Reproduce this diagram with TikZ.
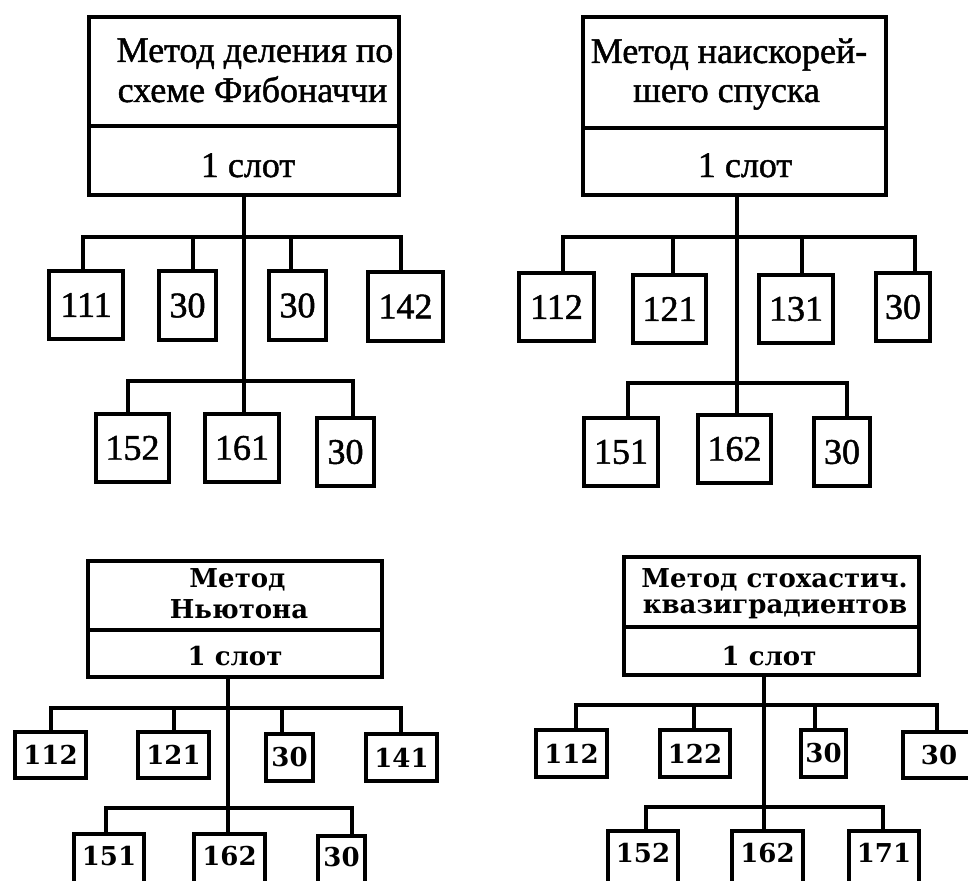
\documentclass[tikz,border=0pt]{standalone}
\usepackage{fontspec}
\setmainfont{Liberation Serif}
\newfontfamily\upperserif[FakeBold=1.3]{Liberation Serif}
\newfontfamily\heavyserif{DejaVu Serif}
\begin{document}
\begin{tikzpicture}[x=0.75pt,y=-0.75pt,
  frame/.style 2 args={draw, line width=3pt, inner sep=0pt,
    minimum width={(#1)*0.75pt}, minimum height={(#2)*0.75pt}},
  upper/.style={font=\upperserif\fontsize{27}{30}\selectfont},
  lower/.style={font=\heavyserif\bfseries\fontsize{19.5}{22}\selectfont},
  caption/.style={inner sep=0pt, anchor=base},
  wire/.style={line width=3pt, line cap=rect},
  cut/.style={text depth=9pt}]
\useasboundingbox (0,0) rectangle (968,881);
\clip (0,0) rectangle (968,881);

% ---------- Fibonacci search ----------
\node[frame={310}{109}] (tl-head) at (244,71.5) {};
\node[frame={310}{69}]  (tl-slot) at (244,160.5) {};
\node[caption,upper] (tl-t1) at (255,62) {Метод деления по};
\node[caption,upper] (tl-t2) at (252.5,102) {схеме Фибоначчи};
\node[caption,upper] (tl-t3) at (248,177) {1 слот};
\node[frame={74}{68},upper] (tl-c1) at (86,305) {111};
\node[frame={57}{69},upper] (tl-c2) at (187.5,305.5) {30};
\node[frame={57}{69},upper] (tl-c3) at (297.5,305.5) {30};
\node[frame={75}{69},upper] (tl-c4) at (405.5,306.5) {142};
\node[frame={73}{68},upper] (tl-c5) at (132.5,448) {152};
\node[frame={74}{68},upper] (tl-c6) at (242,448) {161};
\node[frame={57}{68},upper] (tl-c7) at (345.5,452) {30};
\coordinate (tl-j) at (244,0);
\coordinate (tl-d1) at (83,237);  \coordinate (tl-d2) at (193,237);
\coordinate (tl-d3) at (291,237); \coordinate (tl-d4) at (401,237);
\coordinate (tl-d5) at (128,381); \coordinate (tl-d7) at (353,381);

% ---------- steepest descent ----------
\node[frame={303}{111}] (tr-head) at (734.5,72.5) {};
\node[frame={303}{67}]  (tr-slot) at (734.5,161.5) {};
\node[caption,upper] (tr-t1) at (729,63) {Метод наискорей-};
\node[caption,upper] (tr-t2) at (726.5,102) {шего спуска};
\node[caption,upper] (tr-t3) at (745,177) {1 слот};
\node[frame={75}{68},upper] (tr-c1) at (556.5,307) {112};
\node[frame={73}{68},upper] (tr-c2) at (669.5,309) {121};
\node[frame={74}{68},upper] (tr-c3) at (796,309) {131};
\node[frame={54}{68},upper] (tr-c4) at (903,307) {30};
\node[frame={74}{68},upper] (tr-c5) at (621,452) {151};
\node[frame={73}{68},upper] (tr-c6) at (734.5,449) {162};
\node[frame={56}{68},upper] (tr-c7) at (842,452) {30};
\coordinate (tr-j) at (737,0);
\coordinate (tr-d1) at (563,237); \coordinate (tr-d2) at (673,237);
\coordinate (tr-d3) at (802,237); \coordinate (tr-d4) at (915,237);
\coordinate (tr-d5) at (628,383); \coordinate (tr-d7) at (847,383);

% ---------- Newton ----------
\node[frame={294}{69}] (bl-head) at (235,595.5) {};
\node[frame={294}{47}] (bl-slot) at (235,653.5) {};
\node[caption,lower] (bl-t1) at (237.5,587) {Метод};
\node[caption,lower] (bl-t2) at (239,618) {Ньютона};
\node[caption,lower] (bl-t3) at (235,665) {1 слот};
\node[frame={71}{46},lower] (bl-c1) at (50.5,755) {112};
\node[frame={71}{46},lower] (bl-c2) at (173.5,755) {121};
\node[frame={47}{47},lower] (bl-c3) at (289.5,757.5) {30};
\node[frame={71}{47},lower] (bl-c4) at (401.5,757.5) {141};
\node[frame={70}{56},lower,cut] (bl-c5) at (109,862) {151};
\node[frame={71}{56},lower,cut] (bl-c6) at (229.5,862) {162};
\node[frame={47}{54},lower,cut] (bl-c7) at (341.5,863) {30};
\coordinate (bl-j) at (228,0);
\coordinate (bl-d1) at (51,708);  \coordinate (bl-d2) at (174,708);
\coordinate (bl-d3) at (282,708); \coordinate (bl-d4) at (401,708);
\coordinate (bl-d5) at (106,808); \coordinate (bl-d7) at (352,808);

% ---------- stochastic quasi-gradients ----------
\node[frame={295}{70}] (br-head) at (771.5,592) {};
\node[frame={295}{48}] (br-slot) at (771.5,651) {};
\node[caption,lower] (br-t1) at (774.5,587) {Метод стохастич.};
\node[caption,lower] (br-t2) at (775,613) {квазиградиентов};
\node[caption,lower] (br-t3) at (769,665) {1 слот};
\node[frame={71}{47},lower] (br-c1) at (571.5,753.5) {112};
\node[frame={70}{47},lower] (br-c2) at (695,753.5) {122};
\node[frame={45}{47},lower] (br-c3) at (823.5,753.5) {30};
\node[frame={72}{46},lower] (br-c4) at (939,755) {30};
\node[frame={70}{56},lower,cut] (br-c5) at (643,859) {152};
\node[frame={71}{56},lower,cut] (br-c6) at (767.5,859) {162};
\node[frame={70}{56},lower,cut] (br-c7) at (884,859) {171};
\coordinate (br-j) at (764,0);
\coordinate (br-d1) at (576,705); \coordinate (br-d2) at (694,705);
\coordinate (br-d3) at (815,705); \coordinate (br-d4) at (937,705);
\coordinate (br-d5) at (646,807); \coordinate (br-d7) at (883,807);

% ---------- connectors of every tree ----------
\foreach \p in {tl,tr,bl,br}{
  \draw[wire] (\p-j |- \p-slot.south) -- (\p-j |- \p-c6.north);
  \draw[wire] (\p-d1) -- (\p-d4);
  \draw[wire] (\p-d5) -- (\p-d7);
  \foreach \i in {1,2,3,4,5,7}
    \draw[wire] (\p-d\i) -- (\p-d\i |- \p-c\i.north);
}
\end{tikzpicture}
\end{document}
